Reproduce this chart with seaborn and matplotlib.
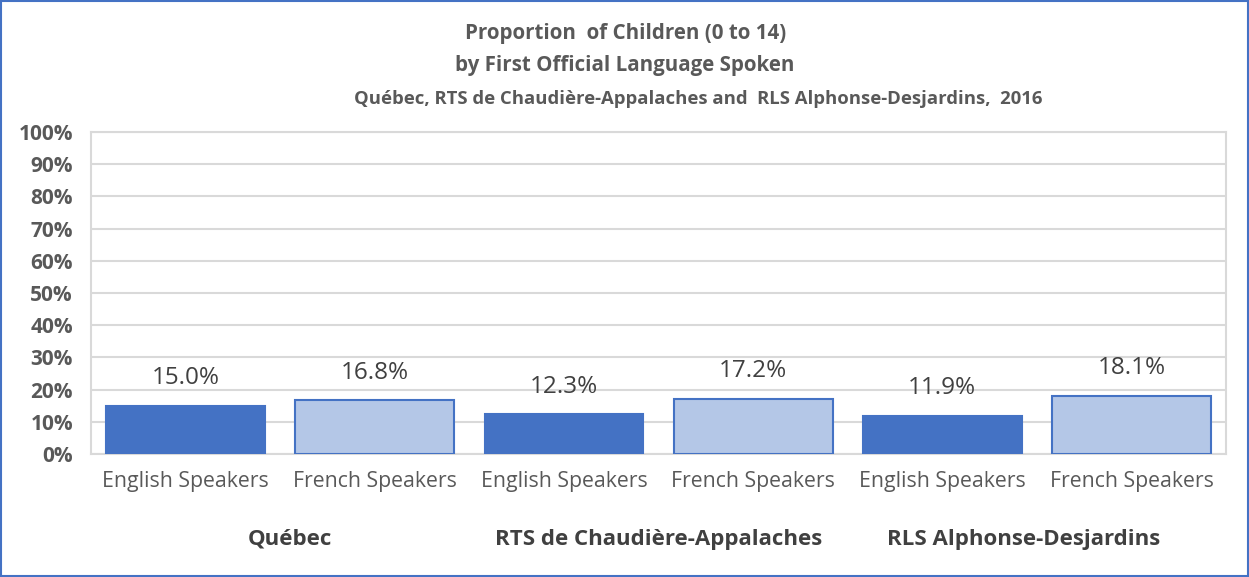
import matplotlib
matplotlib.use("Agg")
import matplotlib.pyplot as plt
import seaborn as sns
import pandas as pd
from matplotlib.patches import Rectangle
from matplotlib.ticker import PercentFormatter

regions = ["Québec", "RTS de Chaudière-Appalaches", "RLS Alphonse-Desjardins"]
languages = ["English Speakers", "French Speakers"]
english = [15.0, 12.3, 11.9]
french = [16.8, 17.2, 18.1]

rows = []
for i, r in enumerate(regions):
    rows.append({"pos": f"{i}-0", "region": r, "lang": languages[0], "val": english[i]})
    rows.append({"pos": f"{i}-1", "region": r, "lang": languages[1], "val": french[i]})
df = pd.DataFrame(rows)

sns.set_theme(style="white")
plt.rcParams['font.family'] = ['Open Sans', 'DejaVu Sans']

fig = plt.figure(figsize=(12.49, 5.77), dpi=100)
ax = fig.add_axes([0.0729, 0.2132, 0.9087, 0.558])

dark = "#4472C4"
light = "#B4C7E7"
sns.barplot(data=df, x="pos", y="val", hue="lang", dodge=False,
            palette={languages[0]: dark, languages[1]: light},
            width=0.84, ax=ax, legend=False, saturation=1)

for p in ax.patches:
    p.set_edgecolor(dark)
    p.set_linewidth(1.5)
    p.set_zorder(3)

for i, row in df.iterrows():
    ax.text(i, row["val"] + 8.5, f"{row['val']:.1f}%", ha="center", va="center",
            fontsize=17.5, color="#404040")

ax.set_ylim(0, 100)
ax.set_xlim(-0.5, 5.5)
ax.set_yticks(range(0, 101, 10))
ax.yaxis.set_major_formatter(PercentFormatter(decimals=0))
ax.grid(axis="y", color="#D9D9D9", linewidth=1.5, zorder=0)
ax.set_axisbelow(True)
for s in ax.spines.values():
    s.set_color("#D9D9D9")
    s.set_linewidth(1.5)
ax.set_xticks(range(6))
ax.set_xticklabels([row["lang"] for _, row in df.iterrows()], fontsize=15.3,
                   color="#595959", fontweight="medium")
ax.tick_params(axis="x", pad=12, length=0)
ax.tick_params(axis="y", length=0, pad=13, labelsize=15, labelcolor="#595959")
for lbl in ax.get_yticklabels():
    lbl.set_fontweight("bold")
ax.set_xlabel("")
ax.set_ylabel("")

group_x = [0.55, 2.5, 4.43]
for gx, r in zip(group_x, regions):
    ax.text(gx, -26.5, r, ha="center", va="center", fontsize=16,
            fontweight="bold", color="#404040", clip_on=False)

title_lines = ["Proportion  of Children (0 to 14)",
               "by First Official Language Spoken",
               "Québec, RTS de Chaudière-Appalaches and  RLS Alphonse-Desjardins,  2016"]
title_x = [626, 625, 698]
title_y = [33, 66, 99]
title_size = [14.8, 14.8, 13.3]
for t, x, y, fs in zip(title_lines, title_x, title_y, title_size):
    fig.text(x / 1249, 1 - y / 577, t, ha="center", va="center", fontsize=fs,
             fontweight="bold", color="#595959")

fig.patches.append(Rectangle((0.001, 0.002), 0.998, 0.996, transform=fig.transFigure,
                             fill=False, edgecolor="#4472C4", linewidth=1.5))

fig.savefig("out.png", dpi=100)
